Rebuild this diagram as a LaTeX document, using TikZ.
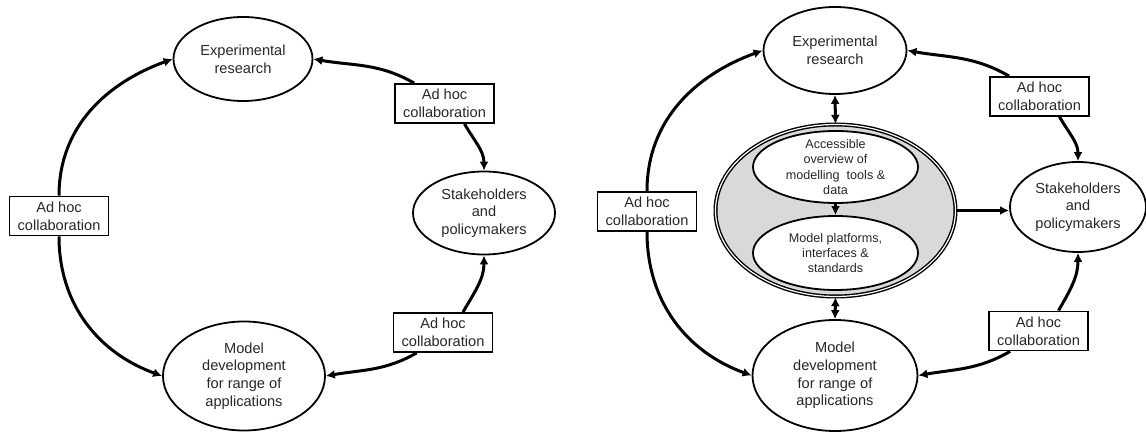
\documentclass[tikz,border=0pt]{standalone}
\usepackage{fontspec}
\setmainfont{Liberation Sans}
\usepackage{xcolor}
\definecolor{Col1}{RGB}{217,217,217}
\definecolor{Col2}{RGB}{40,40,40}
\usepackage{tikz}
\usetikzlibrary{shapes.geometric}
\usetikzlibrary{arrows.meta}
\tikzstyle{Ellipse}=[ellipse,draw,line width=0.9pt,fill=white,inner sep=0pt,
text=Col2,align=center,font=\fontsize{7.3}{8.8}\selectfont]
\tikzstyle{EllipseS}=[Ellipse,inner ysep=-4pt,font=\fontsize{6.3}{7.7}\selectfont]
\tikzstyle{Box}=[rectangle,draw,line width=0.9pt,fill=white,inner sep=0pt,
minimum width=49.5pt,minimum height=19.5pt,text=Col2,align=center,
font=\fontsize{7.3}{8.8}\selectfont]
\tikzstyle{Hub}=[ellipse,draw,line width=0.7pt,double=white,
double distance=0.6pt,fill=Col1,minimum width=120pt,minimum height=86pt]
\tikzstyle{Edge}=[line width=1.5pt,-{Latex[length=4.5pt,width=4.5pt]}]
\tikzstyle{EdgeBoth}=[Edge,{Latex[length=4.5pt,width=4.5pt]}-{Latex[length=4.5pt,width=4.5pt]}]

\begin{document}
\begin{tikzpicture}[x=0.5pt,y=0.5pt]
        \useasboundingbox(0,0)rectangle(1146,-432);
        \node[Ellipse,minimum width=69.5pt,minimum height=42pt](ExpL)at(243.00,-59.00)
            {Experimental\\research};
        \node[Ellipse,minimum width=71pt,minimum height=41.5pt](StakeL)at(484.00,-213.00)
            {Stakeholders\\and\\policymakers};
        \node[Ellipse,minimum width=81pt,minimum height=54.5pt](ModelL)at(244.00,-376.00)
            {Model\\development\\for range of\\applications};
        \node[Box](BoxL)at(59.00,-216.00){Ad hoc\\collaboration};
        \node[Box](BoxTL)at(444.50,-103.50){Ad hoc\\collaboration};
        \node[Box](BoxBL)at(443.00,-332.50){Ad hoc\\collaboration};
        \draw[Edge](BoxL.north)to[out=90,in=200](ExpL.west);
        \draw[Edge](BoxL.south)to[out=-90,in=160](ModelL.west);
        \draw[Edge]([xshift=10pt]BoxTL.north west)to[out=150,in=-10](ExpL.east);
        \draw[Edge]([xshift=10pt]BoxTL.south)to[out=-60,in=90](StakeL.north);
        \draw[Edge]([xshift=10pt]BoxBL.north)to[out=60,in=-90](StakeL.south);
        \draw[Edge]([xshift=12pt]BoxBL.south west)to[out=-150,in=10](ModelL.east);
        \node[Ellipse,minimum width=71.5pt,minimum height=43.5pt](ExpR)at(835.00,-50.50)
            {Experimental\\research};
        \node[Ellipse,minimum width=68pt,minimum height=45pt](StakeR)at(1078.00,-207.00)
            {Stakeholders\\and\\policymakers};
        \node[Ellipse,minimum width=82.5pt,minimum height=55.5pt](ModelR)at(835.00,-375.50)
            {Model\\development\\for range of\\applications};
        \node[Hub](Hub)at(835.50,-210.50){};
        \node[EllipseS,minimum width=82.5pt,minimum height=36pt](InTop)at(835.50,-167.00)
            {Accessible\\overview of\\modelling\ \ tools \&\\data};
        \node[EllipseS,minimum width=82.5pt,minimum height=37pt](InBot)at(835.50,-253.00)
            {Model platforms,\\interfaces \&\\standards};
        \node[Box](BoxR)at(647.00,-211.50){Ad hoc\\collaboration};
        \node[Box](BoxTR)at(1039.50,-96.50){Ad hoc\\collaboration};
        \node[Box](BoxBR)at(1038.50,-331.00){Ad hoc\\collaboration};
        \draw[Edge](BoxR.north)to[out=90,in=200](ExpR.west);
        \draw[Edge](BoxR.south)to[out=-90,in=160](ModelR.west);
        \draw[Edge]([xshift=10pt]BoxTR.north west)to[out=150,in=-10](ExpR.east);
        \draw[Edge]([xshift=10pt]BoxTR.south)to[out=-60,in=90](StakeR.north);
        \draw[Edge]([xshift=10pt]BoxBR.north)to[out=60,in=-90](StakeR.south);
        \draw[Edge]([xshift=11pt]BoxBR.south west)to[out=-150,in=10](ModelR.east);
        \draw[EdgeBoth](ExpR.south)--(Hub.north);
        \draw[EdgeBoth](Hub.south)--(ModelR.north);
        \draw[Edge,line width=1.2pt](InTop.south)--(InBot.north);
        \draw[Edge](Hub.east)--(Hub.east-|StakeR.west);
    \end{tikzpicture}
\end{document}
